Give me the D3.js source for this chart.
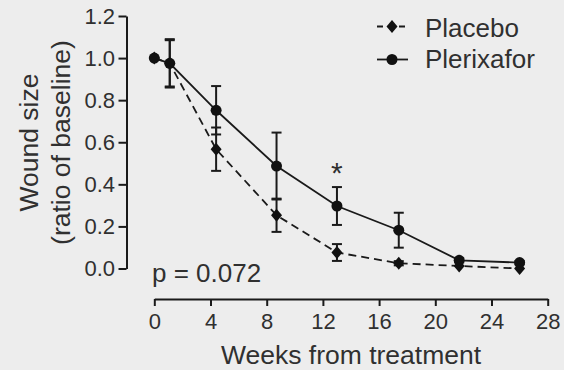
<!DOCTYPE html>
<html>
<head>
<meta charset="utf-8">
<script src="https://cdn.jsdelivr.net/npm/d3@7"></script>
<style>
  html, body { margin: 0; padding: 0; background: #ededed; }
  svg { display: block; }
  text { font-family: "Liberation Sans", Arial, Helvetica, sans-serif; fill: #303030; }
</style>
</head>
<body>
<svg id="chart" width="564" height="370"></svg>
<script>
// ---- data ----
const weeks        = [0, 1.1, 4.4, 8.7, 13.0, 17.4, 21.7, 26.0];
const placebo      = [1.0, 0.975, 0.567, 0.253, 0.076, 0.025, 0.012, 0.0];
const placeboErr   = [0, 0.11, 0.103, 0.079, 0.04, 0.01, 0.005, 0.005];
const plerixafor   = [1.0, 0.975, 0.752, 0.487, 0.297, 0.182, 0.039, 0.028];
const plerixaforErr= [0, 0.115, 0.115, 0.159, 0.09, 0.083, 0.01, 0.008];
const xTicks = [0, 4, 8, 12, 16, 20, 24, 28];
const yTicks = [0.0, 0.2, 0.4, 0.6, 0.8, 1.0, 1.2];
const seriesNames = ["Placebo", "Plerixafor"];
const pText = "p = 0.072";
const sigWeekIndex = 4; // asterisk at week 13

const svg = d3.select("#chart");
const ink = "#1a1a1a";

const x = d3.scaleLinear().domain([0, 28]).range([154.3, 547.7]);
const y = d3.scaleLinear().domain([0, 1.2]).range([268.5, 16]);
const yAxisX = 126.5, xAxisY = 299;

// y axis
const gy = svg.append("g").attr("transform", `translate(${yAxisX},0)`)
  .call(d3.axisLeft(y).tickValues(yTicks).tickFormat(d3.format(".1f"))
        .tickSize(8).tickSizeOuter(0).tickPadding(3.5));
// x axis
const gx = svg.append("g").attr("transform", `translate(0,${xAxisY})`)
  .call(d3.axisBottom(x).tickValues(xTicks).tickFormat(d3.format("d"))
        .tickSize(7).tickSizeOuter(0).tickPadding(7));
[gx, gy].forEach(g => {
  g.select(".domain").attr("stroke", ink).attr("stroke-width", 2);
  g.selectAll(".tick line").attr("stroke", ink).attr("stroke-width", 2);
  g.selectAll(".tick text").attr("fill", "#383838")
    .style("font-size", "22px")
    .style("font-family", "'Liberation Sans', Arial, sans-serif");
});

// axis titles
svg.append("text").attr("x", 351).attr("y", 364).attr("text-anchor", "middle")
  .style("font-size", "26.5px").text("Weeks from treatment");
const yt = svg.append("g").attr("transform", "translate(0,142.5)");
yt.append("text").attr("transform", "translate(38,0) rotate(-90)")
  .attr("text-anchor", "middle").style("font-size", "26.5px").text("Wound size");
yt.append("text").attr("transform", "translate(69.5,0) rotate(-90)")
  .attr("text-anchor", "middle").style("font-size", "26.5px").text("(ratio of baseline)");

// helpers
const diamond = (cx, cy) => `M${cx},${cy-6.5}L${cx+5.5},${cy}L${cx},${cy+6.5}L${cx-5.5},${cy}Z`;
const line = d3.line().x(d => x(d[0])).y(d => y(d[1]));

function drawErr(vals, errs) {
  const g = svg.append("g").attr("stroke", ink).attr("stroke-width", 2);
  weeks.forEach((w, i) => {
    if (errs[i] <= 0.006) return;
    const cx = x(w), top = y(vals[i] + errs[i]), bot = y(vals[i] - errs[i]);
    g.append("line").attr("x1", cx).attr("x2", cx).attr("y1", top).attr("y2", bot);
    g.append("line").attr("x1", cx - 5).attr("x2", cx + 5).attr("y1", top).attr("y2", top);
    g.append("line").attr("x1", cx - 5).attr("x2", cx + 5).attr("y1", bot).attr("y2", bot);
  });
}

drawErr(plerixafor, plerixaforErr);
drawErr(placebo, placeboErr);

const plaData = weeks.map((w, i) => [w, placebo[i]]);
const plxData = weeks.map((w, i) => [w, plerixafor[i]]);

svg.append("path").attr("d", line(plaData)).attr("fill", "none")
  .attr("stroke", ink).attr("stroke-width", 1.8).attr("stroke-dasharray", "8,5");
svg.append("path").attr("d", line(plxData)).attr("fill", "none")
  .attr("stroke", ink).attr("stroke-width", 1.8);

svg.append("g").selectAll("path").data(plaData).join("path")
  .attr("d", d => diamond(x(d[0]), y(d[1]))).attr("fill", "#111");
svg.append("g").selectAll("circle").data(plxData).join("circle")
  .attr("cx", d => x(d[0])).attr("cy", d => y(d[1])).attr("r", 5.5).attr("fill", "#111");

// significance asterisk
svg.append("text")
  .attr("x", x(weeks[sigWeekIndex]))
  .attr("y", y(plerixafor[sigWeekIndex] + plerixaforErr[sigWeekIndex]) - 4)
  .attr("text-anchor", "middle").attr("fill", "#444").style("font-size", "30px").text("*");

// p value
svg.append("text").attr("x", 152).attr("y", 282).style("font-size", "26px").text(pText);

// legend
const leg = svg.append("g");
const legY = [26.5, 59.5];
leg.append("line").attr("x1", 377).attr("x2", 408).attr("y1", legY[0]).attr("y2", legY[0])
  .attr("stroke", ink).attr("stroke-width", 1.8).attr("stroke-dasharray", "6,5");
leg.append("path").attr("d", diamond(392, legY[0])).attr("fill", "#111");
leg.append("line").attr("x1", 377).attr("x2", 408).attr("y1", legY[1]).attr("y2", legY[1])
  .attr("stroke", ink).attr("stroke-width", 1.8);
leg.append("circle").attr("cx", 392).attr("cy", legY[1]).attr("r", 5.5).attr("fill", "#111");
leg.selectAll("text.l").data(seriesNames).join("text").attr("class", "l")
  .attr("x", 425).attr("y", (d, i) => [36.5, 67.5][i])
  .style("font-size", "26px").text(d => d);
</script>
</body>
</html>
